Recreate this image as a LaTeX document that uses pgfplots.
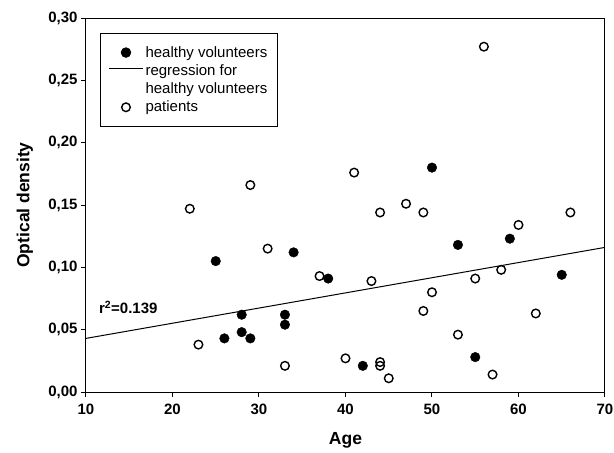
\documentclass[border=0pt]{standalone}
\usepackage{fontspec}
\setmainfont{Liberation Sans}
\usepackage{pgfplots}
\pgfplotsset{compat=1.18}

\begin{document}
\begin{tikzpicture}
\begin{axis}[
  width=519pt,height=374pt,scale only axis,
  xmin=10,xmax=70,ymin=0,ymax=0.30,
  xtick={10,20,...,70},ytick={0,0.05,...,0.30},
  axis line style={line width=1pt},
  tick style={line width=1pt,black},
  tick align=outside,tick pos=left,
  major tick length=5pt,
  /pgf/number format/assume math mode=true,
  tick label style={font=\fontsize{15}{17}\selectfont\bfseries},
  yticklabel style={/pgf/number format/.cd,fixed,fixed zerofill,precision=2,use comma},
  xticklabel style={yshift=-3pt,/pgf/number format/.cd,fixed,precision=0},
  xlabel={Age},ylabel={Optical density},
  label style={font=\fontsize{17.5}{20}\selectfont\bfseries},
  xlabel style={at={(axis description cs:0.5,-0.128)},anchor=center},
  ylabel style={at={(axis description cs:-0.118,0.5)},anchor=center},
  legend style={at={(0.027,0.96)},anchor=north west,draw=black,line width=0.8pt,
    font=\fontsize{15}{18}\selectfont,cells={anchor=west,align=left},
    inner xsep=8pt,inner ysep=11pt,row sep=2pt,
    /tikz/every even column/.append style={column sep=6pt}},
]
\addplot[only marks,mark=*,mark size=4.8pt,mark options={fill=black,draw=black},
  legend image code/.code={\draw[mark=*,mark size=4.8pt,fill=black] plot coordinates {(0.45cm,0cm)};}] coordinates {
(25,0.105) (26,0.043) (28,0.062) (28,0.048) (29,0.043) (33,0.062) (33,0.054)
(34,0.112) (38,0.091) (42,0.021) (50,0.180) (53,0.118) (55,0.028) (59,0.123) (65,0.094)
};
\addlegendentry{healthy volunteers}
\addplot[black,line width=1pt,no marks,
  legend image code/.code={\draw[black,line width=1pt] (-0.15cm,11.5pt) -- (1.05cm,11.5pt);}] coordinates {(10,0.043) (70,0.116)};
\addlegendentry{regression for\\healthy volunteers}
\addplot[only marks,mark=o,mark size=4.3pt,mark options={draw=black,line width=1.4pt,fill=white},
  legend image code/.code={\draw[mark=o,mark size=4.3pt,line width=1.4pt,fill=white] plot coordinates {(0.45cm,0cm)};}] coordinates {
(22,0.147) (23,0.038) (29,0.166) (31,0.115) (33,0.021) (37,0.093) (40,0.027)
(41,0.176) (43,0.089) (44,0.144) (44,0.024) (44,0.021) (45,0.011) (47,0.151)
(49,0.144) (49,0.065) (50,0.080) (53,0.046) (55,0.091) (56,0.277) (57,0.014)
(58,0.098) (60,0.134) (62,0.063) (66,0.144)
};
\addlegendentry{patients}
\node[anchor=west,font=\fontsize{15}{17}\selectfont\bfseries] at (axis cs:11.1,0.068) {r\textsuperscript{2}=0.139};
\coordinate (sw) at (rel axis cs:0,0);
\end{axis}
\pgfresetboundingbox
\path ([shift={(-86pt,-61pt)}]sw) rectangle ([shift={(528pt,392pt)}]sw);
\end{tikzpicture}
\end{document}
